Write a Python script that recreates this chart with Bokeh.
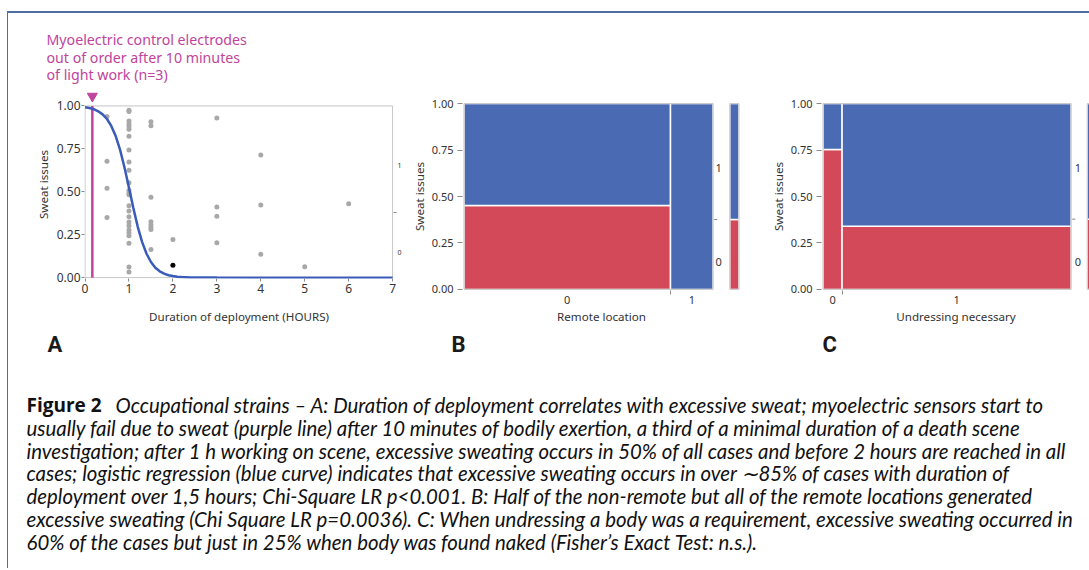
from bokeh.plotting import figure
from bokeh.models import Range1d, FixedTicker, LinearAxis, Spacer
from bokeh.layouts import column, row
from bokeh.embed import file_html
from bokeh.resources import INLINE
from bokeh.core.properties import value

# ---------------- data ----------------
# Panel A: duration of deployment (hours) vs jittered sweat response
dur_x = [0.5, 0.5, 0.5, 0.5,
         1, 1, 1, 1, 1, 1, 1, 1, 1, 1, 1, 1, 1, 1, 1, 1, 1, 1, 1, 1, 1, 1, 1, 1, 1,
         1.5, 1.5, 1.5, 1.5, 1.5, 1.5, 1.5, 1.5,
         2, 3, 3, 3, 3, 4, 4, 4, 5, 6]
dur_y = [0.938, 0.678, 0.520, 0.351,
         0.975, 0.967, 0.912, 0.895, 0.881, 0.864, 0.823, 0.743, 0.673, 0.626, 0.552,
         0.507, 0.493, 0.483, 0.419, 0.388, 0.355, 0.324, 0.302, 0.277, 0.261, 0.244,
         0.201, 0.062, 0.033,
         0.908, 0.885, 0.468, 0.326, 0.308, 0.292, 0.281, 0.164,
         0.222, 0.930, 0.411, 0.357, 0.203, 0.715, 0.423, 0.136, 0.064, 0.431]
hl_x = [2.0]
hl_y = [0.072]
# logistic regression curve
curve_x = [0, 0.1, 0.2, 0.3, 0.4, 0.5, 0.6, 0.7, 0.8, 0.9, 1.0, 1.1, 1.2, 1.3,
           1.4, 1.5, 1.6, 1.7, 1.8, 1.9, 2.0, 2.1, 2.2, 2.4, 2.6, 3, 4, 5, 6, 7]
curve_y = [0.993, 0.988, 0.981, 0.969, 0.951, 0.924, 0.882, 0.823, 0.742, 0.640,
           0.524, 0.405, 0.296, 0.207, 0.139, 0.091, 0.058, 0.037, 0.023, 0.014,
           0.009, 0.0056, 0.0035, 0.0013, 0.0005, 0.0002, 0.0, 0.0, 0.0, 0.0]
sensor_fail_hours = [10 / 60]
a_overall_no_sweat = 0.378
a_x_ticks = [0, 1, 2, 3, 4, 5, 6, 7]

# Panel B: remote location mosaic
remote_levels = ["0", "1"]
remote_share = [0.829, 0.171]
remote_no_sweat = [0.452, 0.0]
remote_overall_no_sweat = 0.376

# Panel C: undressing necessary mosaic
undress_levels = ["0", "1"]
undress_share = [0.077, 0.923]
undress_no_sweat = [0.753, 0.340]
undress_overall_no_sweat = 0.378

side_levels = ["0", "1"]
side_label_y = [0.148, 0.654]
y_ticks = [0, 0.25, 0.5, 0.75, 1.0]
y_tick_labels = ["0.00", "0.25", "0.50", "0.75", "1.00"]

annotation_lines = ["Myoelectric control electrodes",
                    "out of order after 10 minutes",
                    "of light work (n=3)"]
panel_letters = ["A", "B", "C"]
caption_head = "Figure 2"
caption_lines = [
    "Occupational strains \u2013 A: Duration of deployment correlates with excessive sweat; myoelectric sensors start to",
    "usually fail due to sweat (purple line) after 10 minutes of bodily exertion, a third of a minimal duration of a death scene",
    "investigation; after 1 h working on scene, excessive sweating occurs in 50% of all cases and before 2 hours are reached in all",
    "cases; logistic regression (blue curve) indicates that excessive sweating occurs in over \u223c85% of cases with duration of",
    "deployment over 1,5 hours; Chi-Square LR p<0.001. B: Half of the non-remote but all of the remote locations generated",
    "excessive sweating (Chi Square LR p=0.0036). C: When undressing a body was a requirement, excessive sweating occurred in",
    "60% of the cases but just in 25% when body was found naked (Fisher\u2019s Exact Test: n.s.).",
]

# ---------------- styles ----------------
FONT = "Noto Sans"
BLUE = "#4a6bb3"
RED = "#d4495a"
CURVE = "#3a5cb8"
MAGENTA = "#c0449c"
FRAME_GRAY = "#c4c4c4"
TICK_GRAY = "#8a8a8a"
TXT = "#333333"
ROW_H = 318
CAP_H = 237


def style_axis(ax, size):
    ax.axis_line_color = None
    ax.major_label_text_font = FONT
    ax.major_label_text_font_size = size
    ax.major_label_text_color = TXT
    ax.axis_label_text_font = FONT
    ax.axis_label_text_font_size = "11.6px"
    ax.axis_label_text_font_style = "normal"
    ax.axis_label_text_color = TXT
    ax.major_tick_line_color = TICK_GRAY
    ax.minor_tick_line_color = None


# ---------------- panel A ----------------
pA = figure(frame_width=309, frame_height=188, x_range=Range1d(-0.012, 7.02), y_range=Range1d(-0.005, 1.09),
            output_backend="svg", toolbar_location=None,
            min_border_left=76, min_border_right=10, min_border_top=77, min_border_bottom=ROW_H - 77 - 188)
pA.grid.visible = False
pA.outline_line_color = None
pA.title.text = "\n".join(annotation_lines)
pA.title.align = "left"
pA.title.offset = -38
pA.title.standoff = 12
pA.title.text_color = MAGENTA
pA.title.text_font = FONT
pA.title.text_font_size = "14.2px"
pA.title.text_font_style = "normal"
pA.title.text_line_height = 0.93

pA.quad(left=[min(a_x_ticks)], right=[max(a_x_ticks)], bottom=[min(y_ticks)], top=[max(y_ticks)],
        fill_color=None, line_color=FRAME_GRAY, line_width=1)
pA.segment(x0=sensor_fail_hours, y0=[0], x1=sensor_fail_hours, y1=[1], line_color=MAGENTA, line_width=2.5)
pA.scatter(x=sensor_fail_hours, y=[1.057], marker="inverted_triangle", size=10,
           fill_color=MAGENTA, line_color=MAGENTA)
pA.scatter(x=dur_x, y=dur_y, size=5, fill_color="#a8a8a8", line_color=None)
pA.line(x=curve_x, y=curve_y, line_color=CURVE, line_width=2.5)
pA.scatter(x=hl_x, y=hl_y, size=5, fill_color="black", line_color=None)

xa = pA.xaxis[0]
xa.ticker = FixedTicker(ticks=a_x_ticks)
xa.axis_label = "Duration of deployment (HOURS)"
style_axis(xa, "12px")
xa.major_tick_out = 3
xa.major_tick_in = 0
xa.major_label_standoff = 2
xa.axis_label_standoff = 13

ya = pA.yaxis[0]
ya.ticker = FixedTicker(ticks=y_ticks)
ya.major_label_overrides = dict(zip(y_ticks, y_tick_labels))
ya.axis_label = "Sweat issues"
style_axis(ya, "12px")
ya.major_tick_out = 3
ya.major_tick_in = 0
ya.major_label_standoff = 1
ya.axis_label_standoff = 3

ra = LinearAxis(ticker=FixedTicker(ticks=side_label_y, minor_ticks=[a_overall_no_sweat]),
                major_label_overrides=dict(zip(side_label_y, side_levels)))
style_axis(ra, "7px")
ra.major_tick_line_color = None
ra.minor_tick_line_color = TICK_GRAY
ra.minor_tick_out = 3
ra.minor_tick_in = 0
ra.major_tick_out = 0
ra.major_label_standoff = 1
pA.add_layout(ra, "right")


# ---------------- mosaic panels ----------------
def mosaic(shares, no_sweat, overall, levels, xlabel, frame_w, mb_left, mb_right, x_end,
           side_left, side_w, side_lbl_x):
    p = figure(frame_width=frame_w, frame_height=188, x_range=Range1d(-0.006, x_end),
               y_range=Range1d(-0.006, 1.006),
               output_backend="svg", toolbar_location=None,
               min_border_left=mb_left, min_border_right=mb_right, min_border_top=89,
               min_border_bottom=ROW_H - 89 - 188)
    p.grid.visible = False
    p.outline_line_color = None
    lefts, rights = [], []
    acc = 0.0
    for s in shares:
        lefts.append(acc)
        acc += s
        rights.append(acc)
    centers = [(l + r) / 2 for l, r in zip(lefts, rights)]
    p.quad(left=lefts, right=rights, bottom=[0] * len(shares), top=no_sweat,
           fill_color=RED, line_color="white", line_width=1.5)
    p.quad(left=lefts, right=rights, bottom=no_sweat, top=[1] * len(shares),
           fill_color=BLUE, line_color="white", line_width=1.5)
    p.quad(left=[0], right=[acc], bottom=[0], top=[1], fill_color=None, line_color=FRAME_GRAY, line_width=1)
    # side bar (overall distribution); clipped where it runs past the frame
    sl, sr = side_left, side_left + side_w
    p.quad(left=[sl], right=[sr], bottom=[0], top=[overall], fill_color=RED, line_color="white", line_width=1.5)
    p.quad(left=[sl], right=[sr], bottom=[overall], top=[1], fill_color=BLUE, line_color="white", line_width=1.5)
    p.quad(left=[sl], right=[sr], bottom=[0], top=[1], fill_color=None, line_color=FRAME_GRAY, line_width=1)
    # right category axis
    p.segment(x0=[acc + 0.004], y0=[overall], x1=[acc + 0.017], y1=[overall], line_color=TICK_GRAY, line_width=1)
    p.text(x=[side_lbl_x] * len(side_levels), y=side_label_y, text=side_levels, text_align="center",
           text_baseline="middle", text_font=value(FONT), text_font_size="11px", text_color=TXT)

    xa = p.xaxis[0]
    xa.ticker = FixedTicker(ticks=centers, minor_ticks=rights[:-1])
    xa.major_label_overrides = dict(zip(centers, levels))
    xa.axis_label = xlabel
    style_axis(xa, "11px")
    xa.major_tick_line_color = None
    xa.major_tick_out = 0
    xa.minor_tick_line_color = TICK_GRAY
    xa.minor_tick_out = 4
    xa.minor_tick_in = 0
    xa.major_label_standoff = 1
    xa.axis_label_standoff = 2

    ya = p.yaxis[0]
    ya.ticker = FixedTicker(ticks=y_ticks)
    ya.major_label_overrides = dict(zip(y_ticks, y_tick_labels))
    ya.axis_label = "Sweat issues"
    style_axis(ya, "11px")
    ya.major_tick_out = 5
    ya.major_tick_in = 0
    ya.major_label_standoff = 4
    ya.axis_label_standoff = 2
    return p


pB = mosaic(remote_share, remote_no_sweat, remote_overall_no_sweat, remote_levels, "Remote location",
            278, 58, 23, 1.11, 1.067, 0.037, 1.0225)
pC = mosaic(undress_share, undress_no_sweat, undress_overall_no_sweat, undress_levels, "Undressing necessary",
            269, 58, 0, 1.078, 1.065, 0.037, 1.027)

# ---------------- letters + caption ----------------
cap = figure(width=1081, height=CAP_H, x_range=Range1d(0, 1081), y_range=Range1d(CAP_H, 0),
             output_backend="svg", toolbar_location=None, min_border=0,
             x_axis_location=None, y_axis_location=None)
cap.grid.visible = False
cap.outline_line_color = None
cap.text(x=[39, 443, 814], y=[13, 13, 13], text=panel_letters, text_baseline="middle",
         text_font=value("Roboto"), text_font_style="bold", text_font_size="22px", text_color="#1a1a1a")
line_y = [73.5 + 22.8 * i for i in range(len(caption_lines))]
cap.text(x=[18], y=[line_y[0]], text=[caption_head], text_baseline="middle",
         text_font=value("Open Sans"), text_font_style="bold", text_font_size="19px", text_color="#111111")
cap.text(x=[107] + [18] * (len(caption_lines) - 1), y=line_y, text=caption_lines, text_baseline="middle",
         text_font=value("Lato"), text_font_style="italic", text_font_size="20.4px", text_color="#111111")

# ---------------- page frame ----------------
EDGE = "#4d6e9e"
top_line = Spacer(width=1082, height=2, margin=(11, 0, 0, 7), styles={"background-color": EDGE})
left_line = Spacer(width=1, height=ROW_H + CAP_H, margin=(0, 0, 0, 7), styles={"background-color": EDGE})

body = column(row(column(pA), column(pB), column(pC)), column(cap))
layout = column(top_line, row(left_line, body))

open("out.html", "w").write(file_html(layout, INLINE))
